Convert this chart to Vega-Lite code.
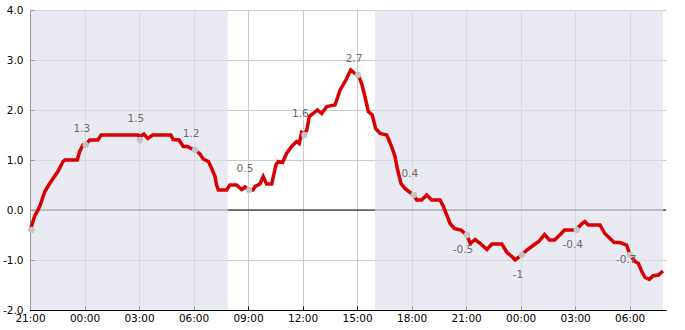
{
  "$schema": "https://vega.github.io/schema/vega-lite/v6.json",
  "width": 636,
  "height": 300,
  "autosize": {"type": "none"},
  "padding": {"left": 30, "top": 10, "right": 19, "bottom": 20},
  "background": "white",
  "config": {
    "view": {"stroke": null},
    "axis": {"labelFont": "DejaVu Sans", "labelFontSize": 10.5, "labelColor": "#000000", "domainColor": "#000000", "tickColor": "#000000", "gridColor": "#cccccc"}
  },
  "layer": [
    {
      "data": {"values": [{"z": 0}]},
      "mark": {"type": "rule", "color": "#000000", "strokeWidth": 1},
      "encoding": {"y": {"field": "z", "type": "quantitative"}}
    },
    {
      "data": {"values": [
        {"start": "2023-12-09T21:00:00Z", "end": "2023-12-10T07:53:00Z"},
        {"start": "2023-12-10T15:59:00Z", "end": "2023-12-11T07:50:00Z"}
      ]},
      "mark": {"type": "rect", "color": "#e0e0ec", "opacity": 0.67},
      "encoding": {
        "x": {"field": "start", "type": "temporal"},
        "x2": {"field": "end"}
      }
    },
    {
      "data": {"values": [
      {"t": "2023-12-09T21:00:00Z", "v": -0.42},
      {"t": "2023-12-09T21:15:00Z", "v": -0.13},
      {"t": "2023-12-09T21:32:00Z", "v": 0.07},
      {"t": "2023-12-09T21:49:00Z", "v": 0.37},
      {"t": "2023-12-09T22:05:00Z", "v": 0.53},
      {"t": "2023-12-09T22:32:00Z", "v": 0.77},
      {"t": "2023-12-09T22:49:00Z", "v": 0.97},
      {"t": "2023-12-09T22:55:00Z", "v": 1.0},
      {"t": "2023-12-09T23:36:00Z", "v": 1.0},
      {"t": "2023-12-09T23:44:00Z", "v": 1.17},
      {"t": "2023-12-09T23:55:00Z", "v": 1.3},
      {"t": "2023-12-10T00:04:00Z", "v": 1.3},
      {"t": "2023-12-10T00:17:00Z", "v": 1.4},
      {"t": "2023-12-10T00:44:00Z", "v": 1.4},
      {"t": "2023-12-10T00:55:00Z", "v": 1.5},
      {"t": "2023-12-10T02:56:00Z", "v": 1.5},
      {"t": "2023-12-10T03:02:00Z", "v": 1.46},
      {"t": "2023-12-10T03:16:00Z", "v": 1.52},
      {"t": "2023-12-10T03:29:00Z", "v": 1.43},
      {"t": "2023-12-10T03:45:00Z", "v": 1.5},
      {"t": "2023-12-10T04:45:00Z", "v": 1.5},
      {"t": "2023-12-10T04:53:00Z", "v": 1.41},
      {"t": "2023-12-10T05:12:00Z", "v": 1.4},
      {"t": "2023-12-10T05:26:00Z", "v": 1.27},
      {"t": "2023-12-10T05:40:00Z", "v": 1.27},
      {"t": "2023-12-10T05:52:00Z", "v": 1.23},
      {"t": "2023-12-10T06:05:00Z", "v": 1.2},
      {"t": "2023-12-10T06:21:00Z", "v": 1.12},
      {"t": "2023-12-10T06:32:00Z", "v": 1.02},
      {"t": "2023-12-10T06:49:00Z", "v": 0.97},
      {"t": "2023-12-10T07:00:00Z", "v": 0.83},
      {"t": "2023-12-10T07:11:00Z", "v": 0.67},
      {"t": "2023-12-10T07:16:00Z", "v": 0.5},
      {"t": "2023-12-10T07:22:00Z", "v": 0.4},
      {"t": "2023-12-10T07:49:00Z", "v": 0.4},
      {"t": "2023-12-10T08:00:00Z", "v": 0.5},
      {"t": "2023-12-10T08:22:00Z", "v": 0.5},
      {"t": "2023-12-10T08:39:00Z", "v": 0.41},
      {"t": "2023-12-10T08:50:00Z", "v": 0.46},
      {"t": "2023-12-10T09:03:00Z", "v": 0.4},
      {"t": "2023-12-10T09:16:00Z", "v": 0.4},
      {"t": "2023-12-10T09:23:00Z", "v": 0.47},
      {"t": "2023-12-10T09:39:00Z", "v": 0.52},
      {"t": "2023-12-10T09:50:00Z", "v": 0.67},
      {"t": "2023-12-10T10:01:00Z", "v": 0.52},
      {"t": "2023-12-10T10:18:00Z", "v": 0.52},
      {"t": "2023-12-10T10:32:00Z", "v": 0.9},
      {"t": "2023-12-10T10:40:00Z", "v": 0.97},
      {"t": "2023-12-10T10:54:00Z", "v": 0.95},
      {"t": "2023-12-10T11:07:00Z", "v": 1.13},
      {"t": "2023-12-10T11:24:00Z", "v": 1.27},
      {"t": "2023-12-10T11:40:00Z", "v": 1.37},
      {"t": "2023-12-10T11:49:00Z", "v": 1.33},
      {"t": "2023-12-10T11:57:00Z", "v": 1.55},
      {"t": "2023-12-10T12:06:00Z", "v": 1.52},
      {"t": "2023-12-10T12:14:00Z", "v": 1.6},
      {"t": "2023-12-10T12:22:00Z", "v": 1.87},
      {"t": "2023-12-10T12:35:00Z", "v": 1.93},
      {"t": "2023-12-10T12:49:00Z", "v": 2.0},
      {"t": "2023-12-10T13:03:00Z", "v": 1.93},
      {"t": "2023-12-10T13:20:00Z", "v": 2.07},
      {"t": "2023-12-10T13:47:00Z", "v": 2.1},
      {"t": "2023-12-10T14:04:00Z", "v": 2.4},
      {"t": "2023-12-10T14:23:00Z", "v": 2.6},
      {"t": "2023-12-10T14:39:00Z", "v": 2.8},
      {"t": "2023-12-10T14:53:00Z", "v": 2.73},
      {"t": "2023-12-10T15:04:00Z", "v": 2.7},
      {"t": "2023-12-10T15:15:00Z", "v": 2.53},
      {"t": "2023-12-10T15:26:00Z", "v": 2.27},
      {"t": "2023-12-10T15:37:00Z", "v": 1.97},
      {"t": "2023-12-10T15:50:00Z", "v": 1.9},
      {"t": "2023-12-10T16:01:00Z", "v": 1.63},
      {"t": "2023-12-10T16:16:00Z", "v": 1.53},
      {"t": "2023-12-10T16:38:00Z", "v": 1.5},
      {"t": "2023-12-10T16:54:00Z", "v": 1.27},
      {"t": "2023-12-10T17:05:00Z", "v": 1.07},
      {"t": "2023-12-10T17:14:00Z", "v": 0.8},
      {"t": "2023-12-10T17:25:00Z", "v": 0.53},
      {"t": "2023-12-10T17:38:00Z", "v": 0.43},
      {"t": "2023-12-10T17:51:00Z", "v": 0.37},
      {"t": "2023-12-10T18:06:00Z", "v": 0.3},
      {"t": "2023-12-10T18:17:00Z", "v": 0.2},
      {"t": "2023-12-10T18:33:00Z", "v": 0.2},
      {"t": "2023-12-10T18:50:00Z", "v": 0.3},
      {"t": "2023-12-10T19:06:00Z", "v": 0.2},
      {"t": "2023-12-10T19:34:00Z", "v": 0.2},
      {"t": "2023-12-10T19:45:00Z", "v": 0.07},
      {"t": "2023-12-10T19:56:00Z", "v": -0.1},
      {"t": "2023-12-10T20:07:00Z", "v": -0.27},
      {"t": "2023-12-10T20:21:00Z", "v": -0.37},
      {"t": "2023-12-10T20:43:00Z", "v": -0.4},
      {"t": "2023-12-10T21:02:00Z", "v": -0.5},
      {"t": "2023-12-10T21:14:00Z", "v": -0.67},
      {"t": "2023-12-10T21:30:00Z", "v": -0.59},
      {"t": "2023-12-10T21:47:00Z", "v": -0.67},
      {"t": "2023-12-10T22:09:00Z", "v": -0.79},
      {"t": "2023-12-10T22:25:00Z", "v": -0.68},
      {"t": "2023-12-10T22:58:00Z", "v": -0.68},
      {"t": "2023-12-10T23:15:00Z", "v": -0.85},
      {"t": "2023-12-10T23:31:00Z", "v": -0.93},
      {"t": "2023-12-10T23:42:00Z", "v": -1.0},
      {"t": "2023-12-10T23:53:00Z", "v": -0.95},
      {"t": "2023-12-11T00:02:00Z", "v": -0.9},
      {"t": "2023-12-11T00:21:00Z", "v": -0.8},
      {"t": "2023-12-11T00:43:00Z", "v": -0.7},
      {"t": "2023-12-11T01:00:00Z", "v": -0.63},
      {"t": "2023-12-11T01:19:00Z", "v": -0.49},
      {"t": "2023-12-11T01:35:00Z", "v": -0.6},
      {"t": "2023-12-11T01:52:00Z", "v": -0.6},
      {"t": "2023-12-11T02:11:00Z", "v": -0.49},
      {"t": "2023-12-11T02:25:00Z", "v": -0.4},
      {"t": "2023-12-11T03:03:00Z", "v": -0.4},
      {"t": "2023-12-11T03:21:00Z", "v": -0.28},
      {"t": "2023-12-11T03:32:00Z", "v": -0.23},
      {"t": "2023-12-11T03:43:00Z", "v": -0.3},
      {"t": "2023-12-11T04:22:00Z", "v": -0.3},
      {"t": "2023-12-11T04:38:00Z", "v": -0.47},
      {"t": "2023-12-11T04:55:00Z", "v": -0.57},
      {"t": "2023-12-11T05:09:00Z", "v": -0.65},
      {"t": "2023-12-11T05:28:00Z", "v": -0.65},
      {"t": "2023-12-11T05:50:00Z", "v": -0.7},
      {"t": "2023-12-11T06:01:00Z", "v": -0.9},
      {"t": "2023-12-11T06:18:00Z", "v": -1.03},
      {"t": "2023-12-11T06:29:00Z", "v": -1.07},
      {"t": "2023-12-11T06:40:00Z", "v": -1.23},
      {"t": "2023-12-11T06:51:00Z", "v": -1.35},
      {"t": "2023-12-11T07:05:00Z", "v": -1.39},
      {"t": "2023-12-11T07:16:00Z", "v": -1.32},
      {"t": "2023-12-11T07:35:00Z", "v": -1.3},
      {"t": "2023-12-11T07:50:00Z", "v": -1.22}
      ]},
      "mark": {"type": "line", "color": "#d80000", "strokeWidth": 3.5},
      "encoding": {
        "x": {
          "field": "t", "type": "temporal", "title": null,
          "scale": {"type": "utc", "domain": [{"year": 2023, "month": 12, "date": 9, "hours": 21, "utc": true}, {"year": 2023, "month": 12, "date": 11, "hours": 8, "utc": true}]},
          "axis": {"format": "%H:%M", "labelPadding": 7, "labelFlush": false, "labelOverlap": false, "tickSize": -4}
        },
        "y": {
          "field": "v", "type": "quantitative", "title": null,
          "scale": {"domain": [-2, 4], "nice": false, "zero": false},
          "axis": {
            "values": [-2, -1.5, -1, -0.5, 0, 0.5, 1, 1.5, 2, 2.5, 3, 3.5, 4],
            "labelExpr": "(datum.value < -0.001 ? '-' : '') + format(abs(datum.value), '.1f')",
            "labelPadding": 11, "labelFlush": false, "labelOverlap": false, "tickSize": -4
          }
        }
      }
    },
    {
      "data": {"values": [
        {"t": "2023-12-09T21:05:00Z", "v": -0.4},
        {"t": "2023-12-10T00:04:00Z", "v": 1.3},
        {"t": "2023-12-10T03:03:00Z", "v": 1.4},
        {"t": "2023-12-10T06:05:00Z", "v": 1.2},
        {"t": "2023-12-10T09:03:00Z", "v": 0.4},
        {"t": "2023-12-10T12:06:00Z", "v": 1.5},
        {"t": "2023-12-10T15:03:00Z", "v": 2.7},
        {"t": "2023-12-10T18:07:00Z", "v": 0.3},
        {"t": "2023-12-10T21:03:00Z", "v": -0.5},
        {"t": "2023-12-11T00:04:00Z", "v": -0.9},
        {"t": "2023-12-11T03:05:00Z", "v": -0.4},
        {"t": "2023-12-11T06:02:00Z", "v": -0.9}
      ]},
      "mark": {"type": "point", "filled": true, "color": "#c4c4c4", "opacity": 1, "size": 40},
      "encoding": {
        "x": {"field": "t", "type": "temporal"},
        "y": {"field": "v", "type": "quantitative"}
      }
    },
    {
      "data": {"values": [
        {"t": "2023-12-10T00:04:00Z", "lbl": 1.3, "txt": "1.3"},
        {"t": "2023-12-10T03:03:00Z", "lbl": 1.5, "txt": "1.5"},
        {"t": "2023-12-10T06:05:00Z", "lbl": 1.2, "txt": "1.2"},
        {"t": "2023-12-10T09:03:00Z", "lbl": 0.5, "txt": "0.5"},
        {"t": "2023-12-10T12:06:00Z", "lbl": 1.6, "txt": "1.6"},
        {"t": "2023-12-10T15:03:00Z", "lbl": 2.7, "txt": "2.7"},
        {"t": "2023-12-10T18:07:00Z", "lbl": 0.4, "txt": "0.4"}
      ]},
      "mark": {"type": "text", "font": "DejaVu Sans", "fontSize": 10.5, "color": "#6a6a6a", "dy": -16, "dx": -4, "baseline": "middle"},
      "encoding": {
        "x": {"field": "t", "type": "temporal"},
        "y": {"field": "lbl", "type": "quantitative"},
        "text": {"field": "txt", "type": "nominal"}
      }
    },
    {
      "data": {"values": [
        {"t": "2023-12-10T21:03:00Z", "lbl": -0.5, "txt": "-0.5"},
        {"t": "2023-12-11T00:04:00Z", "lbl": -1, "txt": "-1"},
        {"t": "2023-12-11T03:05:00Z", "lbl": -0.4, "txt": "-0.4"},
        {"t": "2023-12-11T06:02:00Z", "lbl": -0.7, "txt": "-0.7"}
      ]},
      "mark": {"type": "text", "font": "DejaVu Sans", "fontSize": 10.5, "color": "#6a6a6a", "dy": 15, "dx": -4, "baseline": "middle"},
      "encoding": {
        "x": {"field": "t", "type": "temporal"},
        "y": {"field": "lbl", "type": "quantitative"},
        "text": {"field": "txt", "type": "nominal"}
      }
    }
  ]
}
